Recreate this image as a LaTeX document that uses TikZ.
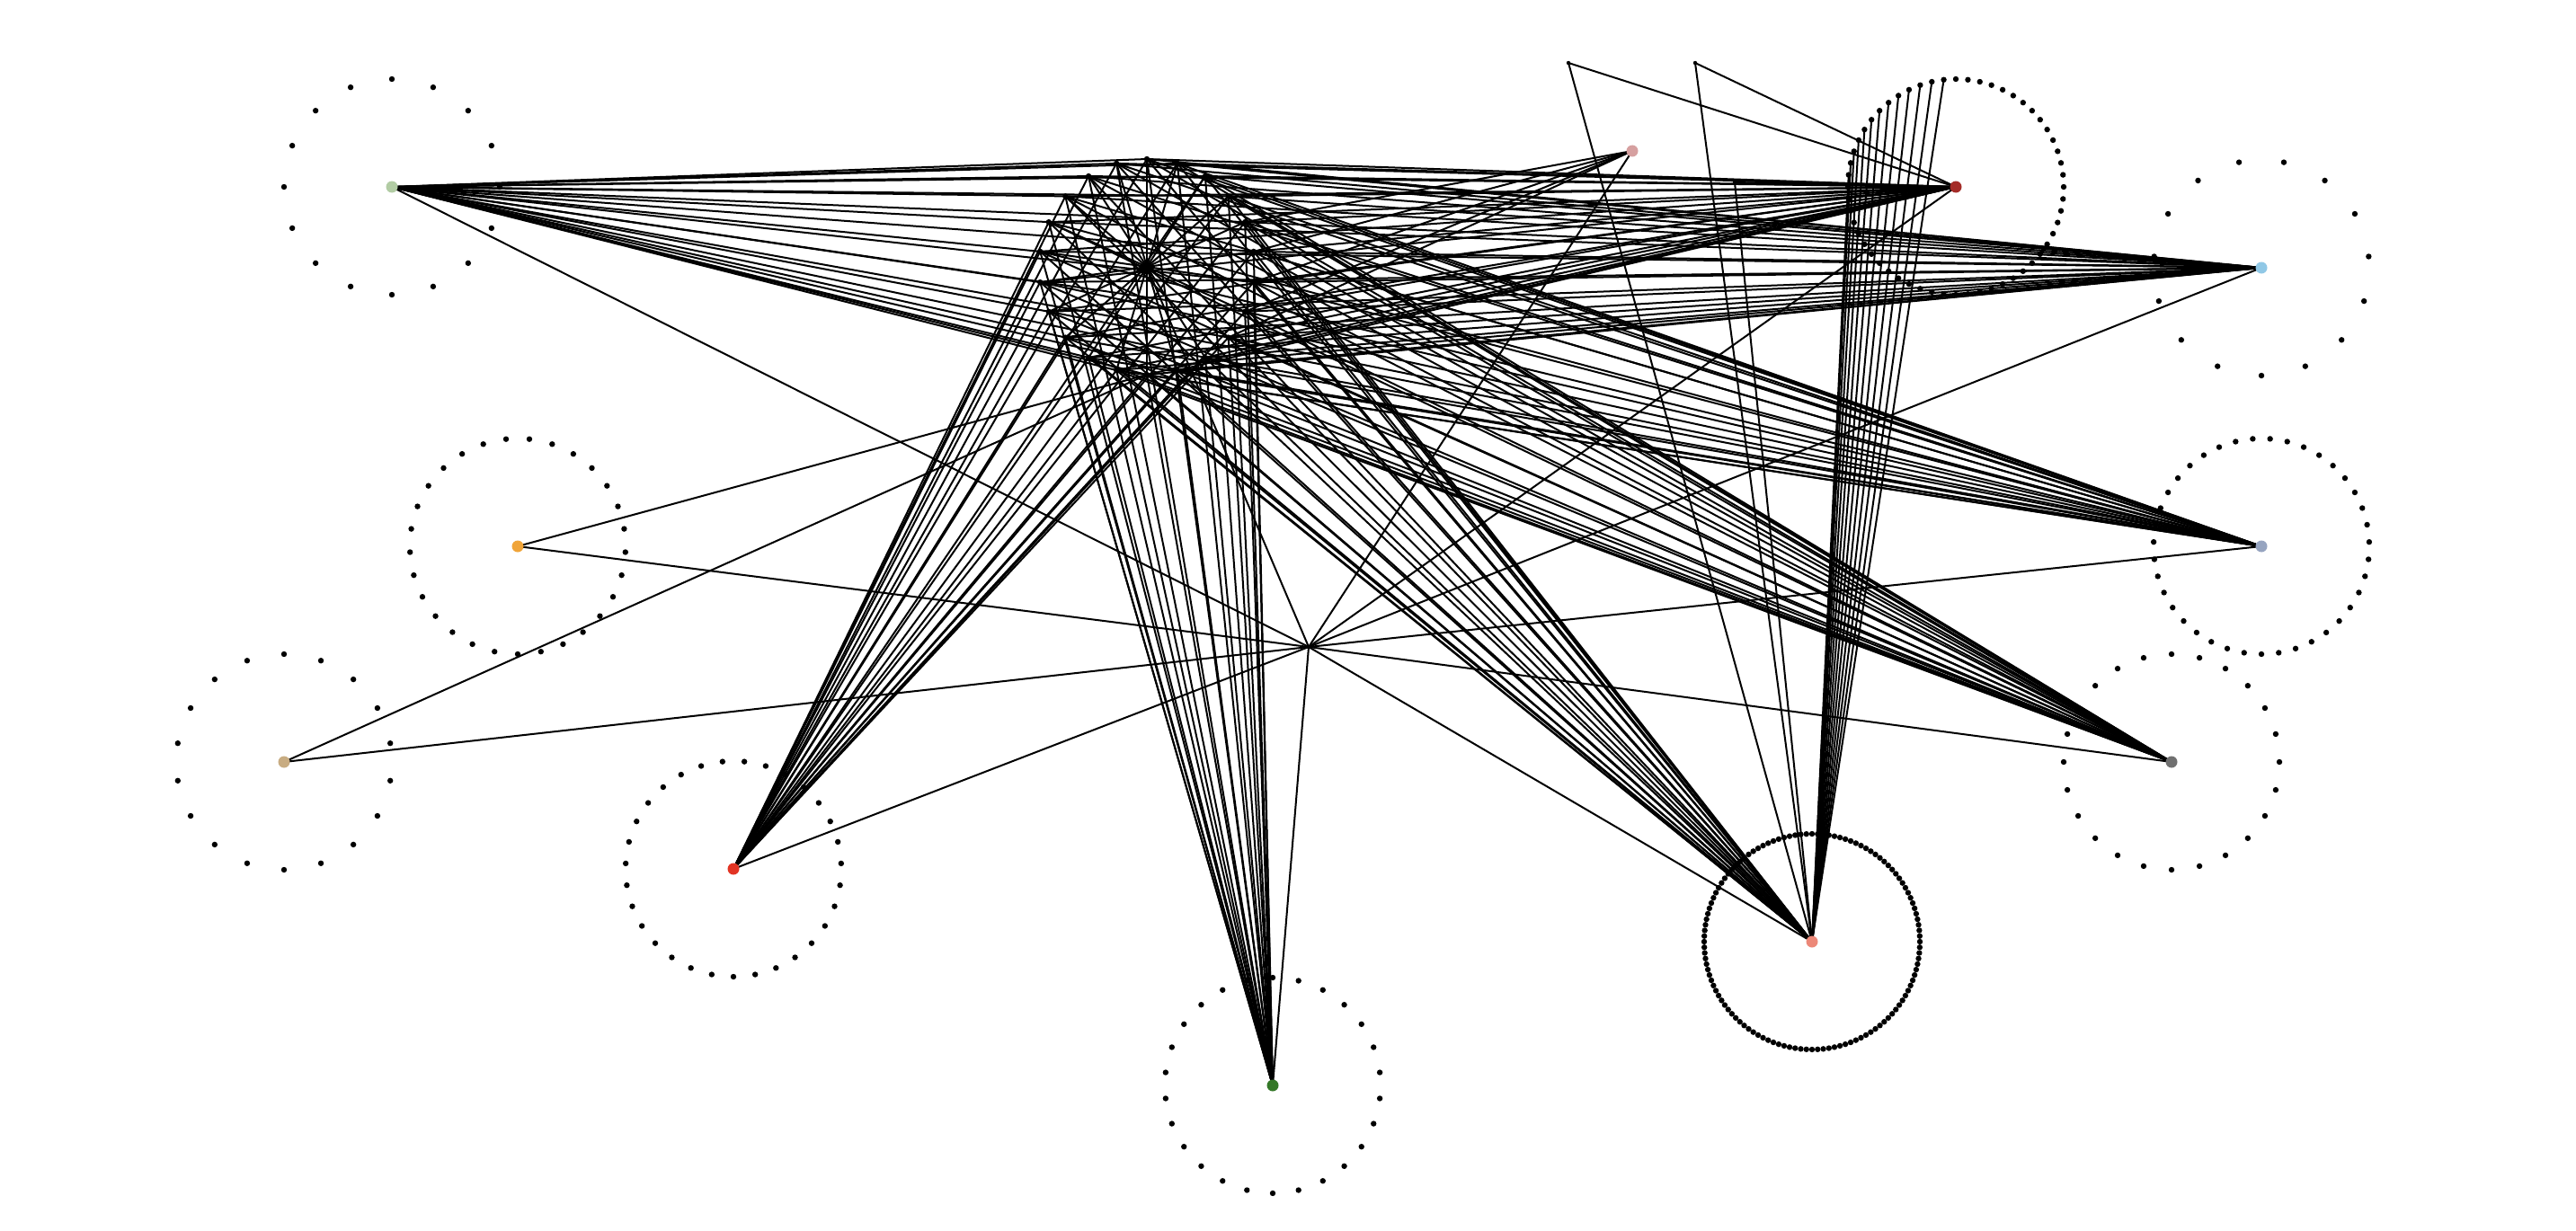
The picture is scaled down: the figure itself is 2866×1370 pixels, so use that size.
\documentclass[tikz,border=0pt]{standalone}
\usetikzlibrary{calc}
\pgfdeclarelayer{paper}
\pgfdeclarelayer{edges}
\pgfsetlayers{paper,edges,main}
\definecolor{cG}{RGB}{178,204,164}
\definecolor{cO}{RGB}{240,164,56}
\definecolor{cT}{RGB}{200,172,130}
\definecolor{cR}{RGB}{226,52,36}
\definecolor{cDG}{RGB}{52,120,40}
\definecolor{cS}{RGB}{236,136,120}
\definecolor{cY}{RGB}{112,112,112}
\definecolor{cBG}{RGB}{150,164,192}
\definecolor{cLB}{RGB}{144,200,230}
\definecolor{cDR}{RGB}{164,44,40}
\definecolor{cP}{RGB}{214,160,160}
\begin{document}
\begin{tikzpicture}[x=0.5pt,y=-0.5pt,
  edge/.style={line width=1pt,black},
  leaf/.style={circle,fill=black,inner sep=0pt,minimum size=3.2pt},
  hub/.style={circle,inner sep=0pt,minimum size=6.5pt},
  tiny/.style={circle,fill=black,inner sep=0pt,minimum size=2.2pt}]
\begin{pgfonlayer}{paper}
\fill[white] (0,0) rectangle (2866,1370);
\end{pgfonlayer}
\useasboundingbox (0,0) rectangle (2866,1370);
% hubs
\node[hub,fill=cG]  (G)  at (436,208)  {};
\node[hub,fill=cO]  (O)  at (576,608)  {};
\node[hub,fill=cT]  (T)  at (316,848)  {};
\node[hub,fill=cR]  (R)  at (816,967)  {};
\node[hub,fill=cDG] (DG) at (1416,1208) {};
\node[hub,fill=cS]  (S)  at (2016,1048) {};
\node[hub,fill=cY]  (Y)  at (2416,848)  {};
\node[hub,fill=cBG] (BG) at (2516,608)  {};
\node[hub,fill=cLB] (LB) at (2516,298)  {};
\node[hub,fill=cDR] (DR) at (2176,208)  {};
\node[hub,fill=cP]  (P)  at (1816,168)  {};
\node[tiny] (C) at (1276,297) {};
\node[tiny] (X) at (1456,720) {};
\node[tiny] (E1) at (1745,70) {};
\node[tiny] (E2) at (1886,70) {};
\node[tiny] (E3) at (1930,203) {};
% leaf rings
\foreach \h/\n in {G/16,O/29,T/18,R/31,DG/26,S/120,Y/24,BG/39,LB/15,DR/56} {
  \foreach \k in {1,...,\n} {
    \path (\h) ++({90+(360/\n)*(\k-1)}:120) node[leaf] (\h-\k) {};
  }
}
% centre ring
\foreach \k in {0,...,21} {
  \path (C) ++({90+(360/22)*\k}:120) node[leaf] (c\k) {};
}
\begin{pgfonlayer}{edges}
\foreach \k in {0,...,21} {
  \foreach \h in {C,G,R,DG,S,Y,BG,LB,DR} {
    \draw[edge] (c\k.center) -- (\h.center);
  }
}
\foreach \k in {15,...,19} { \draw[edge] (c\k.center) -- (P.center); }
\draw[edge] (O.center) -- (c0.center);
\draw[edge] (T.center) -- (c0.center);
\foreach \h in {G,O,T,R,DG,S,Y,BG,LB,DR,P,C} { \draw[edge] (X.center) -- (\h.center); }
\foreach \k in {16,...,28} { \draw[edge] (DR-\k.center) -- (S.center); }
\foreach \e in {E1,E2,E3} {
  \draw[edge] (\e.center) -- (DR.center);
  \draw[edge] (\e.center) -- (S.center);
}
\end{pgfonlayer}
\end{tikzpicture}
\end{document}
